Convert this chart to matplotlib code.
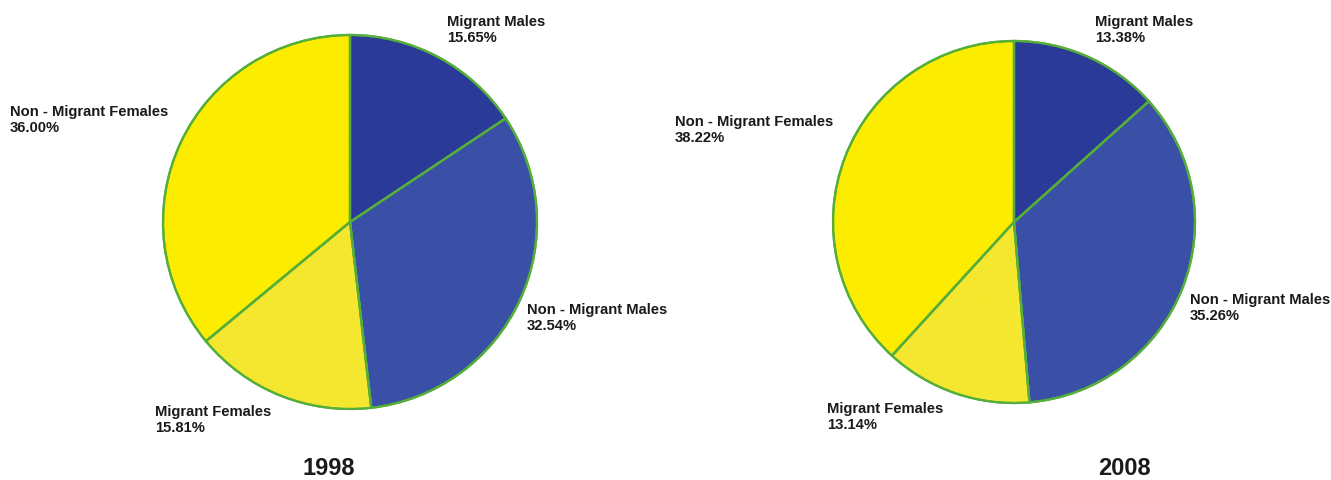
import matplotlib
matplotlib.use("Agg")
import matplotlib.pyplot as plt

W, H = 1331, 480
years = ["1998", "2008"]
categories = ["Migrant Males", "Non - Migrant Males", "Migrant Females", "Non - Migrant Females"]
values_1998 = [15.65, 32.54, 15.81, 36.00]
values_2008 = [13.38, 35.26, 13.14, 38.22]
pct_labels_1998 = ["15.65%", "32.54%", "15.81%", "36.00%"]
pct_labels_2008 = ["13.38%", "35.26%", "13.14%", "38.22%"]

colors = ["#2c3d9c", "#3a4fa6", "#f8ea2a", "#fcec00"]
hatched = [True, False, True, False]
hatch_colors = ["#24348c", None, "#ece040", None]
edge = "#55ae3a"

plt.rcParams['font.family'] = ['Liberation Sans', 'DejaVu Sans']
plt.rcParams['hatch.linewidth'] = 0.6
fig = plt.figure(figsize=(W / 100, H / 100), dpi=100)

# pie geometry (pixels): centre x, centre y, radius
pies = [(350, 222, 187), (1014, 222, 181)]
# label anchor positions (pixels, top-left) per category
label_pos = [
    [(447, 15), (527, 303), (155, 405), (10, 105)],
    [(1095, 15), (1190, 293), (827, 402), (675, 115)],
]
year_pos = [(329, 475), (1124, 475)]

for i, (vals, pcts) in enumerate([(values_1998, pct_labels_1998), (values_2008, pct_labels_2008)]):
    cx, cy, r = pies[i]
    pad = 3
    ax = fig.add_axes([(cx - r - pad) / W, 1 - (cy + r + pad) / H, (2 * r + 2 * pad) / W, (2 * r + 2 * pad) / H])
    ax.pie(vals, colors=colors, startangle=90, counterclock=False,
           radius=1, wedgeprops=dict(edgecolor=edge, linewidth=1.6))
    w2, _ = ax.pie(vals, colors=['none'] * 4, startangle=90, counterclock=False, radius=1,
                   wedgeprops=dict(linewidth=0))
    for w, h, hc in zip(w2, hatched, hatch_colors):
        if h:
            w.set_hatch('.......')
            w.set_edgecolor(hc)
            w.set_facecolor('none')
        else:
            w.set_visible(False)
    ax.pie(vals, colors=['none'] * 4, startangle=90, counterclock=False, radius=1,
           wedgeprops=dict(edgecolor=edge, linewidth=1.6, fill=False))
    lim = (r + pad) / r
    ax.set_xlim(-lim, lim)
    ax.set_ylim(-lim, lim)
    ax.axis('off')
    for cat, pct, (lx, ly) in zip(categories, pcts, label_pos[i]):
        fig.text(lx / W, 1 - ly / H, f"{cat}\n{pct}", ha='left', va='top',
                 fontsize=10.6, fontweight='bold', color='#1a1a1a', linespacing=1.15)
    yx, yy = year_pos[i]
    fig.text(yx / W, 1 - yy / H, years[i], ha='center', va='baseline', fontsize=17,
             fontweight='bold', color='#1a1a1a')

fig.savefig("out.png", dpi=100, facecolor='white')
